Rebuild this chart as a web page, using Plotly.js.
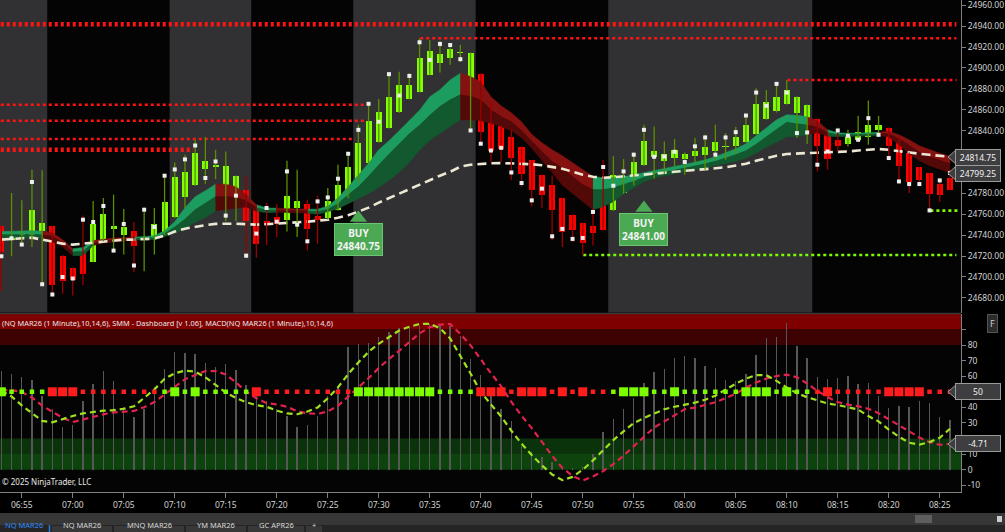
<!DOCTYPE html>
<html><head><meta charset="utf-8">
<script src="https://cdn.plot.ly/plotly-3.0.1.min.js"></script>
<style>html,body{margin:0;padding:0;background:#000;}#chart{width:1005px;height:532px;}</style>
</head><body><div id="chart"></div>
<script>
// ---------- DATA ----------
const day = '2026-01-15 ';
const firstBar = '06:53';
const open = [24748.4,24735,24737,24739.5,24744.3,24748.4,24720.4,24708.3,24726.2,24714.4,
24735,24746,24740.5,24744.3,24736.5,24737.3,24743.4,24757.4,24776.1,24788,
24802.9,24805.2,24785.7,24769.2,24782.8,24768.2,24753.2,24757.4,24754.2,24765.6,
24769.8,24758,24756,24764.4,24776.1,24790.9,24809,24829.1,24842.5,24857.4,
24870.5,24876.9,24893.4,24905.2,24909.4,24914.3,24873.6,24894.3,24866.6,24844,
24833.9,24824.3,24811.5,24797.2,24787.6,24775.6,24759.6,24751.7,24749.1,24782.8,
24763.7,24780.3,24788.3,24807.4,24814.4,24810.5,24813.8,24813.1,24815.3,24816.9,
24820.1,24824.4,24825.5,24829.1,24836.7,24851,24859.3,24865.7,24856.8,24837.7,
24851,24838.6,24831.3,24827.5,24831.3,24834.4,24840.2,24842.5,24834.4,24818.6,
24805.2,24799.5,24789.2,24794.7];
const high = [24749,24780.3,24773.3,24802.6,24802,24749,24721,24709,24758.7,24772.7,
24775.6,24778.7,24765,24752.6,24765,24766,24797.8,24809.6,24816.9,24831.3,
24833.9,24821.7,24820.1,24797,24796.9,24769,24770.8,24770,24811.2,24802.6,
24774,24777.8,24785.1,24807.4,24817.9,24845.6,24865.7,24870.2,24895,24896.3,
24895,24928.5,24926.8,24925.9,24923.7,24922,24915,24895,24867,24845,
24840.8,24825,24812,24798,24797.2,24776,24760,24752,24766,24812.2,
24815.4,24812.8,24819,24845.6,24844,24829.7,24832,24819,24832.9,24836,
24845.6,24837.7,24843.4,24854.5,24880.7,24879,24884.8,24888.6,24873,24865,
24851.5,24839,24843,24840.8,24854.2,24868.8,24854.2,24843,24835,24819,
24805.5,24800,24792.4,24802.6];
const low = [24686.3,24719.8,24731,24728.7,24692.7,24683.2,24684,24682.2,24692,24714,
24734,24724,24721.4,24704.5,24705.5,24721.4,24740,24756.5,24766,24787,
24789.2,24793.7,24753.2,24753.2,24720.4,24718.2,24730.3,24737.9,24743.6,24738.3,
24725.2,24731.9,24755,24763.5,24775.5,24790,24808,24828.5,24842,24857,
24870,24876.5,24893,24895.6,24903,24906,24840.2,24827.5,24809.6,24810,
24793,24786,24767.5,24766,24735,24728.7,24733.5,24720.7,24730,24744.5,
24763,24779.5,24787.5,24806.5,24794,24798.8,24805.8,24797.8,24809,24802.6,
24812.2,24812.2,24817.6,24828.5,24836,24850.5,24857.4,24865,24832.9,24827.2,
24801,24802.6,24820.1,24824.9,24829.7,24826.5,24836,24813.8,24791.4,24780.3,
24788.3,24763.7,24771.8,24783];
const close = [24723.6,24739.5,24743.6,24763.7,24751.7,24692.4,24696.2,24696.8,24702.6,24751,
24760,24748.4,24747.8,24729.3,24737.5,24750.7,24771.7,24795.3,24800,24818.6,
24811.2,24807.4,24806.4,24796.2,24753.2,24731.6,24750,24751,24777.8,24773,
24745.9,24754.2,24773,24788.3,24804.8,24828.1,24849.4,24858,24872.1,24883.8,
24883.8,24909.9,24916.3,24913.5,24918.5,24915,24914.1,24838.3,24821,24822.7,
24814.1,24798.8,24782.8,24778.7,24763.7,24742.7,24744.6,24732.6,24742.1,24745.3,
24797.2,24796.2,24809.6,24830.3,24820.1,24817.6,24821.7,24817.9,24820.1,24823.9,
24828.7,24825.8,24833.5,24845.6,24865.4,24867.9,24872.7,24879,24872.7,24864.7,
24824.9,24813.1,24825.8,24835.4,24838.6,24845.6,24845.6,24825.5,24806.4,24790.5,
24792.4,24779.7,24778.1,24783.5];
const stopDots = [24719.8,24737,24731,24790.9,24693,24683.2,24700,24698.4,24754.8,24752.6,
24767.9,24725.2,24750.7,24710.9,24764.4,24747.8,24796.9,24802.9,24812.5,24825.8,
24794.7,24810.5,24758.7,24777.8,24720.4,24741.5,24766,24752.9,24801,24750,
24734.1,24772.3,24776.1,24794,24817.9,24840.8,24865.7,24848.5,24894.1,24873.6,
24892.4,24924.6,24907.7,24923,24922,24908.4,24840.2,24827.5,24821,24823.6,
24800,24789.9,24773.3,24784.5,24738.9,24746,24736.4,24737.3,24762.2,24805.2,
24787.3,24801,24817,24840.8,24815,24815.3,24819.8,24810,24825,24833.5,
24817,24833.5,24838.6,24854.5,24876.5,24863.8,24884.8,24876.5,24837.7,24838.3,
24807.4,24820.1,24840.2,24835.1,24831.3,24852,24836,24813.8,24791.4,24788.9,
24788.9,24763.7,24792.4,24799.5];
const smaSlow = [24735.7,24736.2,24737.2,24737.6,24735.7,24733.8,24731.9,24730.9,24731.9,24733.3,
24734.3,24735.2,24735.7,24735.7,24736.2,24736.7,24739.5,24743.4,24746.2,24748.1,
24749.6,24750.8,24751.0,24751.0,24750.5,24750.1,24750.5,24751.0,24751.5,24752.0,
24752.9,24753.9,24754.8,24756.7,24759.1,24762.5,24766.3,24771.1,24775.4,24779.7,
24784.0,24788.3,24793.1,24796.9,24800.7,24805.5,24807.4,24808.3,24808.8,24809.0,
24808.8,24808.3,24807.9,24806.9,24805.5,24803.6,24800.7,24797.8,24795.9,24795.0,
24795.4,24796.4,24797.4,24798.3,24799.3,24799.7,24800.7,24801.7,24802.6,24803.1,
24804.0,24805.0,24806.4,24808.3,24811.2,24813.6,24816.0,24817.6,24818.4,24818.6,
24818.9,24819.1,24819.3,24820.1,24821.0,24821.7,24822.4,24821.7,24820.3,24819.3,
24817.9,24816.9,24816.0,24815.0];
const ribbonTop = [24743.4,24743.7,24743.8,24744.3,24743.8,24742.4,24735.7,24727.1,24728.1,24734.8,
24736.2,24737.2,24737.6,24738.1,24738.6,24739.5,24744.3,24752.9,24766.3,24776.8,
24782.5,24788.8,24788.8,24786.4,24778.7,24769.2,24766.0,24765.8,24765.3,24765.3,
24764.9,24764.9,24767.7,24775.9,24786.4,24797.4,24808.8,24821.7,24830.3,24839.9,
24849.4,24859.5,24872.4,24879.1,24888.6,24895.0,24891.8,24886.7,24872.4,24863.8,
24857.1,24848.5,24836.5,24828.4,24821.7,24816.0,24809.3,24802.6,24796.2,24795.0,
24795.0,24795.9,24797.8,24799.7,24801.7,24803.6,24805.5,24807.4,24809.8,24812.2,
24815.0,24818.9,24822.7,24827.5,24835.1,24842.7,24850.4,24855.2,24854.7,24853.3,
24849.4,24840.8,24838.0,24837.5,24837.5,24838.0,24838.4,24839.4,24836.1,24831.3,
24825.5,24821.7,24818.4,24815.5];
const ribbonMid = [24740.5,24740.5,24741.0,24741.0,24740.5,24738.6,24732.9,24723.8,24724.3,24732.4,
24734.3,24735.2,24736.2,24736.7,24737.2,24737.6,24741.5,24747.7,24755.3,24764.4,
24770.6,24776.8,24777.1,24776.3,24773.0,24766.3,24763.9,24763.9,24763.4,24763.4,
24763.0,24762.5,24764.9,24770.1,24778.7,24786.4,24796.4,24807.4,24817.4,24827.2,
24837.0,24845.1,24854.7,24863.1,24869.5,24874.3,24872.7,24869.5,24859.9,24853.3,
24848.5,24839.9,24829.4,24819.8,24810.3,24804.5,24795.9,24788.3,24783.5,24783.5,
24785.4,24788.3,24791.6,24795.4,24798.3,24800.2,24802.1,24804.0,24806.0,24808.3,
24810.7,24813.6,24816.9,24820.8,24827.0,24834.1,24841.3,24848.0,24846.6,24845.6,
24843.2,24838.0,24836.1,24836.1,24836.1,24836.5,24837.0,24837.0,24832.2,24825.5,
24819.3,24815.0,24811.7,24808.3];
const ribbonBot = [24737.6,24737.3,24737.6,24737.6,24737.2,24733.8,24729.0,24720.4,24720.4,24730.0,
24732.4,24733.3,24734.3,24735.2,24735.7,24735.7,24738.6,24741.9,24746.7,24752.4,
24756.7,24763.4,24764.4,24765.8,24767.0,24763.0,24761.5,24762.0,24761.5,24761.5,
24761.0,24760.1,24762.5,24765.3,24770.1,24774.9,24779.7,24785.9,24792.4,24800.2,
24809.8,24821.2,24830.8,24837.7,24844.0,24850.4,24850.4,24849.4,24847.0,24843.7,
24839.9,24833.2,24823.2,24811.2,24799.7,24787.8,24779.7,24772.0,24764.4,24767.3,
24772.0,24779.7,24785.4,24791.1,24795.0,24796.9,24798.8,24801.2,24802.6,24804.5,
24806.4,24808.3,24810.7,24813.6,24818.9,24824.1,24829.4,24834.1,24834.4,24836.1,
24838.0,24834.6,24834.1,24834.4,24834.6,24835.1,24835.1,24834.1,24826.5,24817.9,
24811.2,24806.4,24803.1,24799.7];
const ribbonTrend = [1,1,1,1,1,-1,-1,-1,1,1,
-1,-1,-1,-1,1,1,1,1,1,1,
1,1,-1,-1,-1,-1,1,1,-1,-1,
-1,1,1,1,1,1,1,1,1,1,
1,1,1,1,1,1,-1,-1,-1,-1,
-1,-1,-1,-1,-1,-1,-1,-1,-1,1,
1,1,1,1,1,1,1,1,1,1,
1,1,1,1,1,1,1,1,1,1,
-1,-1,1,1,1,1,1,-1,-1,-1,
-1,-1,-1,-1];
const oscBars = [63.3,61.4,59.3,57.5,47.3,38.9,27.2,28.7,44.3,55,
63.3,57.1,40,34,38.7,52.9,64.4,75.7,74.7,74.2,
68.2,65.7,67.8,64,54.3,47.9,44.3,38.7,34.4,27.6,
28.7,34.4,47.3,53.7,78.5,80.6,81.5,84.9,88.5,90.7,
91.3,92.2,93.5,93.5,92.2,85.8,70.8,60.7,49,38.9,
31.2,15,11.5,8.3,5,2,1,2,10,24,
32.5,38.9,46.2,55.4,62.9,64.4,71.5,73.1,71.5,66.7,
65.4,57.5,57.1,61.4,73.6,84.3,85.3,93.9,79.3,71.5,
59.3,58.2,58.6,60.1,55,55.8,47.3,39.4,40.9,40,
44.3,43,34,31.9];
const macdLine = [50.6,47,41.3,36,31.3,30.4,32.6,34.5,36.1,37.1,
37.9,38.2,39.1,40.7,46,51.5,58.3,61.9,63.6,62.9,
59.3,54.3,49.5,46,43.3,41.4,40.4,37.9,36.1,35.6,
37.3,39.9,45.8,52.8,61.3,68.8,75.6,80.8,85.3,89.3,
91.7,93.5,93.6,90.8,84.2,73.1,61.7,49.8,41.6,34.1,
25,16.7,9.4,2.8,-3.1,-6.7,-4.6,0,5.9,12.5,
19,24.6,29.9,33.2,36.2,38.8,40.4,41.7,43,44.9,
47.5,51.3,55.2,58.4,60.7,60.6,57,52.7,49.1,46.5,
44.4,42.5,41.5,40.2,38.6,34.4,31,25.7,21.2,17.3,
16.1,17.7,20.5,26.3];
const signalLine = [51.1,51.1,49.8,46.3,41.1,37,33.3,30.6,32.3,34,
35.5,36.8,37.4,37.7,40.1,43.4,48.3,53.1,58,60.8,
63.2,63.3,61.1,56,50.1,45.9,42.7,41.9,40.4,37.5,
36.2,35.8,37.4,41,46.8,52.7,58.7,65.2,71.1,76.3,
82.2,87.5,91.4,93.1,93.5,87.1,79.8,70.6,61.9,53.5,
43.5,34.6,26.7,17.8,8.9,1.1,-4,-6.9,-4.3,-0.9,
3.6,9,15,21.6,27.1,31,34.9,38.8,39.8,41.4,
43.3,45.9,48.8,52.7,55.9,58.5,60.1,61,59.3,55.3,
50.6,46.6,43.4,41.8,40.7,39.1,36.3,32.4,28.5,24.6,
20.7,17.6,16,16.5];
// dashboard state: G/R = strong (large square), g/r = weak (small dot)
const dashState = ['G','g','g','g','g','R','R','R','r','r',
'r','r','r','r','r','r','g','G','g','G',
'g','g','g','g','g','R','r','r','r','r',
'r','r','r','r','r','G','G','G','G','G',
'G','G','G','g','g','g','g','R','R','R',
'r','R','R','R','r','R','r','R','r','r',
'g','G','G','G','g','g','G','g','g','g',
'g','g','g','G','G','G','g','G','g','g',
'r','R','r','r','r','r','r','R','R','R',
'R','r','r','r'];
const dashLevel = 50;
const sessionStart = ['06:45:00','07:09:30','07:27:30','07:52:30'];
const sessionEnd   = ['06:57:30','07:17:30','07:39:30','08:12:30'];
const resistPrice = [24941.75,24928.5,24888.5,24864.75,24849.5,24832.0,24821.75];
const resistFrom  = ['06:50:00','07:34:04','08:10:04','06:50:00','06:50:00','06:50:00','06:50:00'];
const resistTo    = ['08:26:38','08:26:38','08:26:38','07:28:50','07:28:40','07:27:41','07:11:48'];
const supportPrice = [24721.0,24763.5];
const supportFrom  = ['07:50:03','08:24:05'];
const supportTo    = ['08:26:38','08:26:50'];
const buyIndex = [35,63];
const buyText  = ['24840.75','24841.00'];
const buyMarkPrice = [24756.5,24766];
const priceTags = [24814.75,24799.25];
const oscTagText = ['50','-4.71'];
const tabNames = ['NQ MAR26','NQ MAR26','MNQ MAR26','YM MAR26','GC APR26','+'];
const panelTitle = '(NQ MAR26 (1 Minute),10,14,6), SMM - Dashboard [v 1.06], MACD(NQ MAR26 (1 Minute),10,14,6)';
const copyright = '© 2025 NinjaTrader, LLC';

// ---------- HELPERS ----------
const pad = v => String(v).padStart(2,'0');
function minuteTime(i){
  const [h0,m0] = firstBar.split(':').map(Number);
  const m = h0*60+m0+i;
  return day + pad(Math.floor(m/60)) + ':' + pad(m%60) + ':00';
}
const T = s => day + s;
const n = open.length;
const times = open.map((_,i)=>minuteTime(i));
const PW = 961, PH = 492;
const px = p => p/PW;
const py = p => (PH - p)/PH;

const traces = [];

// ---------- RIBBON ----------
const bandCol = {1:['#1d9c5f','#13592f'], '-1':['#861111','#540909']};
function addBand(idx, tr){
  const xs = idx.map(j=>times[j]);
  const xr = xs.slice().reverse();
  const cols = bandCol[tr];
  traces.push({x:xs.concat(xr), y:idx.map(j=>ribbonTop[j]).concat(idx.map(j=>ribbonMid[j]).reverse()),
    mode:'lines', fill:'toself', fillcolor:cols[0], line:{width:0.5,color:cols[0]}, hoverinfo:'skip', xaxis:'x', yaxis:'y'});
  traces.push({x:xs.concat(xr), y:idx.map(j=>ribbonMid[j]).concat(idx.map(j=>ribbonBot[j]).reverse()),
    mode:'lines', fill:'toself', fillcolor:cols[1], line:{width:0.5,color:cols[1]}, hoverinfo:'skip', xaxis:'x', yaxis:'y'});
}
let s0 = 1;
for (let s = 2; s <= n; s++){
  if (s === n || ribbonTrend[s] !== ribbonTrend[s0]){
    const idx=[]; for (let j=s0-1;j<=s-1;j++) idx.push(j);
    addBand(idx, ribbonTrend[s0]);
    s0 = s;
  }
}

// ---------- LEVEL LINES ----------
resistPrice.forEach((p,k)=>{
  const heavy = (k===0 || k===resistPrice.length-1);
  traces.push({x:[T(resistFrom[k]),T(resistTo[k])], y:[p,p], mode:'lines',
    line:{color:'#ff1414', width: heavy?4.5:2.6, dash:'3px,3px'}, hoverinfo:'skip', yaxis:'y'});
});
supportPrice.forEach((p,k)=>{
  traces.push({x:[T(supportFrom[k]),T(supportTo[k])], y:[p,p], mode:'lines',
    line:{color:'#7cfc00', width:2.6, dash:'3px,3px'}, hoverinfo:'skip', yaxis:'y'});
});

// ---------- SMA DASHED ----------
traces.push({x:times, y:smaSlow, mode:'lines', line:{color:'#ece7d3', width:2.6, dash:'9px,5px'}, hoverinfo:'skip', yaxis:'y'});

// ---------- CANDLES ----------
function wicks(up){
  const x=[],y=[];
  for (let i=0;i<n;i++){ if ((close[i]>=open[i])===up){ x.push(times[i],times[i],null); y.push(low[i],high[i],null);} }
  return {x,y,mode:'lines',line:{color: up?'#5b8f00':'#9a0000', width:1.3}, hoverinfo:'skip', yaxis:'y', connectgaps:false};
}
traces.push(wicks(true), wicks(false));
function bodies(up){
  const x=[],y=[],b=[];
  for (let i=0;i<n;i++){ if ((close[i]>=open[i])===up){ x.push(times[i]); b.push(Math.min(open[i],close[i])); y.push(Math.max(Math.abs(close[i]-open[i]),1.0)); } }
  return {type:'bar', x, y, base:b, width:36000, marker:{color: up?'#7fff00':'#ff0000', line:{width:0}}, hoverinfo:'skip', yaxis:'y'};
}
traces.push(bodies(true), bodies(false));
traces.push({x:times, y:stopDots, mode:'markers', marker:{color:'#eeeeee', size:4, symbol:'square', opacity:1, line:{width:0}}, hoverinfo:'skip', yaxis:'y'});

// ---------- BUY SIGNALS ----------
traces.push({x:buyIndex.map(i=>times[i]), y:buyMarkPrice, mode:'markers',
  marker:{symbol:'triangle-up', size:15, color:'#4aa952', opacity:1, line:{width:0}}, hoverinfo:'skip', yaxis:'y'});

// ---------- LOWER PANEL ----------
traces.push({type:'bar', x:times, y:oscBars, width:8000, marker:{color:'#575757', line:{width:0}}, hoverinfo:'skip', yaxis:'y2'});
traces.push({x:times, y:signalLine, mode:'lines', line:{color:'#e0224e', width:2.2, dash:'6px,4px'}, hoverinfo:'skip', yaxis:'y2'});
traces.push({x:times, y:macdLine, mode:'lines', line:{color:'#9fe01f', width:2.2, dash:'6px,4px'}, hoverinfo:'skip', yaxis:'y2'});
traces.push({x:times, y:times.map(()=>dashLevel), mode:'markers',
  marker:{symbol:'square', opacity:1, line:{width:0}, size:dashState.map(s=>(s==='G'||s==='R')?9:4.5),
          color:dashState.map(s=>(s==='G'||s==='g')?'#7cfc00':'#ff1c1c')}, hoverinfo:'skip', yaxis:'y2'});

// ---------- SHAPES ----------
const shapes = [];
sessionStart.forEach((s,k)=>shapes.push({type:'rect', xref:'x', yref:'y domain', x0:T(s), x1:T(sessionEnd[k]), y0:0, y1:1,
  fillcolor:'#313133', line:{width:0}, layer:'below'}));
[[90,102,'#7e0000'],[80,90,'#3e0202'],[10,20,'#0b330b'],[0,10,'#0d430d']].forEach(z=>shapes.push({type:'rect', xref:'paper', yref:'y2',
  x0:0, x1:1, y0:z[0], y1:z[1], fillcolor:z[2], line:{width:0}, layer:'below'}));
shapes.push({type:'line', xref:'paper', yref:'paper', x0:0, x1:1, y0:py(313.5), y1:py(313.5), line:{color:'#3a3a3a', width:1.5}});
function notch(yref, y, d){ return {type:'path', xref:'paper', yref,
  path:`M ${px(948)},${y} L ${px(956)},${y+d} L ${px(956)},${y-d} Z`, fillcolor:'#3e3e40', line:{color:'#9a9a9a', width:1}}; }
priceTags.forEach(p=>shapes.push(notch('y', p, 6.8)));
shapes.push(notch('y2', dashLevel, 4.4));
shapes.push(notch('y2', signalLine[n-1], 4.4));
shapes.push({type:'rect', xref:'paper', yref:'paper', x0:0, x1:px(1005), y0:py(525), y1:py(513), fillcolor:'#373737', line:{width:0}});
shapes.push({type:'rect', xref:'paper', yref:'paper', x0:px(915), x1:px(932), y0:py(523), y1:py(515), fillcolor:'#5e5e5e', line:{width:0}});
shapes.push({type:'rect', xref:'paper', yref:'paper', x0:px(997), x1:px(1002), y0:py(522), y1:py(516), fillcolor:'#cccccc', line:{width:0}});
shapes.push({type:'rect', xref:'paper', yref:'paper', x0:0, x1:px(1005), y0:py(532), y1:py(525), fillcolor:'#252525', line:{width:0}});
const tabEdges = [[0,48],[52,112],[114,184],[186,246],[248,304],[306,322]];
tabEdges.forEach((e,k)=>{ if(k>0) shapes.push({type:'rect', xref:'paper', yref:'paper', x0:px(e[0]), x1:px(e[1]), y0:py(532), y1:py(526), fillcolor:'#383838', line:{width:0}}); });
shapes.push({type:'line', xref:'paper', yref:'paper', x0:px(49.5), x1:px(49.5), y0:py(532), y1:py(525), line:{color:'#1e7fe0', width:1.5}});

// ---------- ANNOTATIONS ----------
const annotations = [];
buyIndex.forEach((i,k)=>annotations.push({xref:'x', yref:'y', x:times[i], y:buyMarkPrice[k], yanchor:'top', yshift:-5,
  text:'<b>BUY</b><br><b>'+buyText[k]+'</b>', showarrow:false, bgcolor:'#4aa952', bordercolor:'#6cc474', borderwidth:1, borderpad:2,
  font:{family:'Noto Sans, sans-serif', size:10, color:'#f2f2f2'}, align:'center'}));
function tag(yref, y, text){ return {xref:'paper', yref, x:px(955), y, xanchor:'left', yanchor:'middle', text, showarrow:false,
  bgcolor:'#3e3e40', bordercolor:'#9a9a9a', borderwidth:1, borderpad:2, width:40,
  font:{family:'Noto Sans, sans-serif', size:8.5, color:'#f0f0f0'}}; }
priceTags.forEach(p=>annotations.push(tag('y', p, p.toFixed(2))));
annotations.push(tag('y2', dashLevel, oscTagText[0]));
annotations.push(tag('y2', signalLine[n-1], oscTagText[1]));
annotations.push({xref:'paper', yref:'paper', x:0, y:py(323), xanchor:'left', yanchor:'middle', text:panelTitle, showarrow:false,
  font:{family:'Noto Sans, sans-serif', size:7.4, color:'#e8e8e8'}});
annotations.push({xref:'paper', yref:'paper', x:0, y:py(481), xanchor:'left', yanchor:'middle', text:copyright, showarrow:false,
  font:{family:'Noto Sans, sans-serif', size:8, color:'#e8e8e8'}});
annotations.push({xref:'paper', yref:'paper', x:px(992), y:py(323), xanchor:'center', yanchor:'middle', text:'F', showarrow:false,
  bgcolor:'#2c2c2c', bordercolor:'#555', borderwidth:1, borderpad:2, font:{family:'Noto Sans, sans-serif', size:9, color:'#cfcfcf'}});
tabNames.forEach((t,k)=>{
  const e = tabEdges[k];
  annotations.push({xref:'paper', yref:'paper', x:px((e[0]+e[1])/2), y:py(532), xanchor:'center', yanchor:'bottom',
    text:t, showarrow:false, font:{family:'Noto Sans, sans-serif', size:7.5, color:k===0?'#2f8cff':'#d8d8d8'}});
});

// ---------- LAYOUT ----------
const axisCommon = {showgrid:false, zeroline:false, showline:true, linecolor:'#808080', linewidth:1,
  ticks:'outside', ticklen:4, tickcolor:'#808080', tickfont:{family:'Noto Sans, sans-serif', size:8.5, color:'#d2d2d2'}, fixedrange:true};
const priceTicks = []; for (let v=24680; v<=24960; v+=20) priceTicks.push(v);
const oscTicks = [-10,0,10,20,30,40,50,60,70,80,90];
const layout = {
  width:1005, height:532, paper_bgcolor:'#000', plot_bgcolor:'#040404',
  margin:{l:0, r:44, t:0, b:40, pad:0}, showlegend:false, barmode:'overlay', bargap:0,
  font:{family:'Noto Sans, sans-serif', size:9, color:'#d2d2d2'},
  xaxis:Object.assign({}, axisCommon, {type:'date', anchor:'y2', range:[T('06:52:52'), T('08:27:05')],
    tick0:T('06:55:00'), dtick:300000, tickformat:'%H:%M', ticklen:5}),
  yaxis:Object.assign({}, axisCommon, {domain:[py(313)+0.001,1], range:[24665.96,24965.06], side:'right', anchor:'x',
    tickvals:priceTicks, ticktext:priceTicks.map(v=>(v===24800||v===24820)?'':v.toFixed(2)), ticklabeloverflow:'allow'}),
  yaxis2:Object.assign({}, axisCommon, {domain:[0,py(314)], range:[-14.3,99.9], side:'right', anchor:'x',
    tickvals:oscTicks, ticktext:oscTicks.map(v=>(v===90||v===20||v===50)?'':String(v))}),
  shapes, annotations
};
Plotly.newPlot('chart', traces, layout, {displayModeBar:false, staticPlot:true});
</script>
</body></html>
